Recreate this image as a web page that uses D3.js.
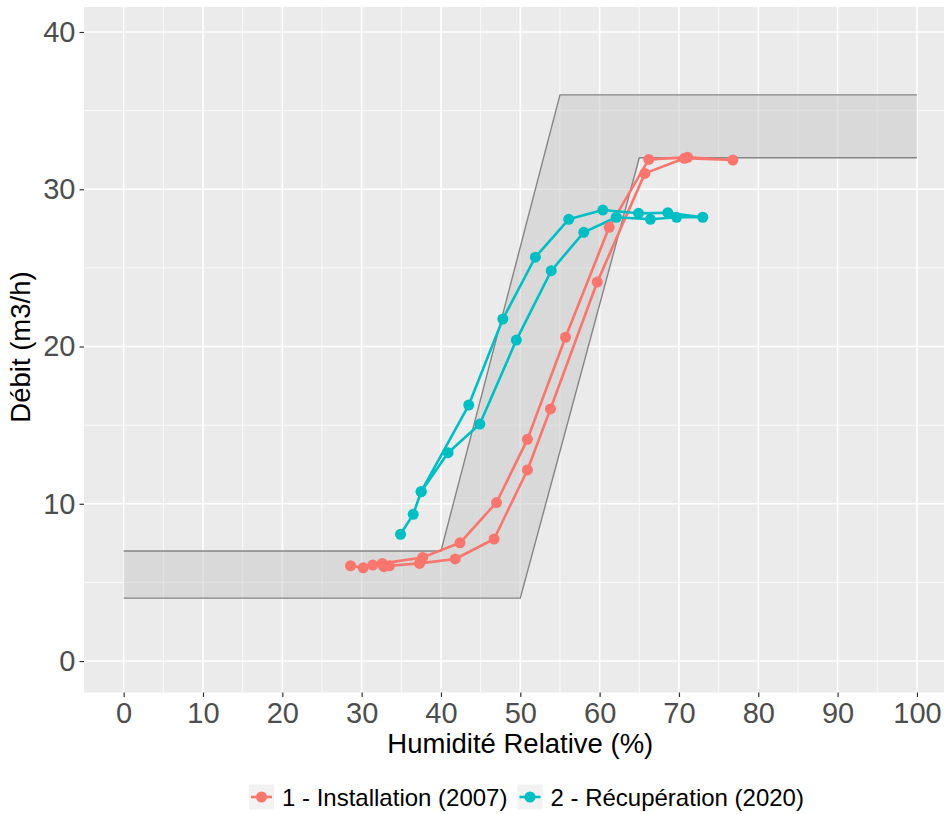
<!DOCTYPE html>
<html>
<head>
<meta charset="utf-8">
<script src="https://cdn.jsdelivr.net/npm/d3@7"></script>
<style>
  html, body { margin: 0; padding: 0; background: #ffffff; }
  svg { display: block; }
  text { font-family: "Liberation Sans", Arial, Helvetica, sans-serif; }
</style>
</head>
<body>
<svg id="chart" width="944" height="814"></svg>
<script>
// Envelope of acceptable flow versus relative humidity
const envUpperX = [0, 40, 55, 100];
const envUpperY = [7, 7, 36, 36];
const envLowerX = [0, 50, 65, 100];
const envLowerY = [4, 4, 32, 32];

// Measured curves, in measurement order (rising then falling humidity)
const seriesNames = ["1 - Installation (2007)", "2 - Récupération (2020)"];
const seriesColors = ["#F8766D", "#00BFC4"];

const installHumidity = [28.6, 30.2, 31.4, 32.6, 37.7, 42.4, 47.0, 50.9, 55.7, 61.2, 66.2, 71.1, 76.8,
                         70.7, 65.7, 59.7, 53.8, 50.9, 46.7, 41.8, 37.3, 33.5, 32.8];
const installFlow     = [6.06, 5.93, 6.10, 6.21, 6.59, 7.52, 10.08, 14.10, 20.59, 27.58, 31.90, 32.03, 31.86,
                         31.97, 31.01, 24.10, 16.03, 12.15, 7.76, 6.49, 6.21, 6.06, 6.00];

const recupHumidity = [34.9, 36.5, 37.5, 43.5, 47.8, 51.9, 56.1, 60.4, 64.9, 68.6, 73.0,
                       69.7, 66.4, 62.1, 58.0, 53.9, 49.5, 44.9, 40.9, 37.5];
const recupFlow     = [8.06, 9.33, 10.77, 16.28, 21.75, 25.68, 28.09, 28.68, 28.47, 28.51, 28.22,
                       28.22, 28.09, 28.22, 27.26, 24.82, 20.41, 15.07, 13.25, 10.77];

const xTicks = [0, 10, 20, 30, 40, 50, 60, 70, 80, 90, 100];
const xMinor = [5, 15, 25, 35, 45, 55, 65, 75, 85, 95];
const yTicks = [0, 10, 20, 30, 40];
const yMinor = [5, 15, 25, 35];

const xTitle = "Humidité Relative (%)";
const yTitle = "Débit (m3/h)";

// Layout
const panel = { left: 84, top: 7, right: 956.6, bottom: 692.5 };
const x = d3.scaleLinear().domain([-5, 105]).range([panel.left, panel.right]);
const y = d3.scaleLinear().domain([-2, 41.59]).range([panel.bottom, panel.top]);

const svg = d3.select("#chart");

// Panel background
svg.append("rect")
  .attr("x", panel.left).attr("y", panel.top)
  .attr("width", panel.right - panel.left).attr("height", panel.bottom - panel.top)
  .attr("fill", "#EBEBEB");

const grid = svg.append("g");
grid.selectAll("line.xminor").data(xMinor).join("line")
  .attr("x1", d => x(d)).attr("x2", d => x(d))
  .attr("y1", panel.top).attr("y2", panel.bottom)
  .attr("stroke", "#ffffff").attr("stroke-width", 0.8);
grid.selectAll("line.yminor").data(yMinor).join("line")
  .attr("y1", d => y(d)).attr("y2", d => y(d))
  .attr("x1", panel.left).attr("x2", panel.right)
  .attr("stroke", "#ffffff").attr("stroke-width", 0.8);
grid.selectAll("line.xmajor").data(xTicks).join("line")
  .attr("x1", d => x(d)).attr("x2", d => x(d))
  .attr("y1", panel.top).attr("y2", panel.bottom)
  .attr("stroke", "#ffffff").attr("stroke-width", 1.6);
grid.selectAll("line.ymajor").data(yTicks).join("line")
  .attr("y1", d => y(d)).attr("y2", d => y(d))
  .attr("x1", panel.left).attr("x2", panel.right)
  .attr("stroke", "#ffffff").attr("stroke-width", 1.6);

// Envelope ribbon
const upper = envUpperX.map((v, i) => [v, envUpperY[i]]);
const lower = envLowerX.map((v, i) => [v, envLowerY[i]]);
const line = d3.line().x(d => x(d[0])).y(d => y(d[1]));
svg.append("path")
  .attr("d", line(upper.concat(lower.slice().reverse())) + "Z")
  .attr("fill", "#C8C8C8").attr("fill-opacity", 0.5).attr("stroke", "none");
[upper, lower].forEach(b => {
  svg.append("path").attr("d", line(b))
    .attr("fill", "none").attr("stroke", "#858585").attr("stroke-width", 1.4);
});

// Series
const series = [
  { name: seriesNames[0], color: seriesColors[0], pts: installHumidity.map((h, i) => [h, installFlow[i]]) },
  { name: seriesNames[1], color: seriesColors[1], pts: recupHumidity.map((h, i) => [h, recupFlow[i]]) }
];
series.forEach(s => {
  svg.append("path").attr("d", line(s.pts))
    .attr("fill", "none").attr("stroke", s.color)
    .attr("stroke-width", 2.6).attr("stroke-linejoin", "round").attr("stroke-linecap", "butt");
});
series.forEach(s => {
  svg.append("g").selectAll("circle").data(s.pts).join("circle")
    .attr("cx", d => x(d[0])).attr("cy", d => y(d[1])).attr("r", 5.5)
    .attr("fill", s.color);
});

// Axes
const xAxis = d3.axisBottom(x).tickValues(xTicks).tickSize(4.5).tickPadding(5);
const gx = svg.append("g").attr("transform", `translate(0,${panel.bottom})`).call(xAxis);
gx.select(".domain").remove();
gx.selectAll(".tick line").attr("stroke", "#333333").attr("stroke-width", 1.2);
gx.selectAll(".tick text").attr("fill", "#4D4D4D").attr("font-size", 29)
  .attr("font-family", "Liberation Sans, Arial, sans-serif");

const yAxis = d3.axisLeft(y).tickValues(yTicks).tickSize(4.5).tickPadding(4);
const gy = svg.append("g").attr("transform", `translate(${panel.left},0)`).call(yAxis);
gy.select(".domain").remove();
gy.selectAll(".tick line").attr("stroke", "#333333").attr("stroke-width", 1.2);
gy.selectAll(".tick text").attr("fill", "#4D4D4D").attr("font-size", 29)
  .attr("font-family", "Liberation Sans, Arial, sans-serif");

// Axis titles
svg.append("text").attr("x", x(50)).attr("y", 753)
  .attr("text-anchor", "middle").attr("font-size", 27.5).attr("fill", "#000000")
  .text(xTitle);
svg.append("text").attr("transform", "translate(30,347) rotate(-90)")
  .attr("text-anchor", "middle").attr("font-size", 27.5).attr("fill", "#000000")
  .text(yTitle);

// Legend: keys and labels laid out left to right
const legend = svg.append("g");
const keySize = 25;
let cursor = 249;
series.forEach(s => {
  const g = legend.append("g").attr("transform", `translate(${cursor},${797 - keySize / 2})`);
  g.append("rect").attr("width", keySize).attr("height", keySize).attr("fill", "#F2F2F2");
  g.append("line").attr("x1", 2).attr("x2", keySize - 2).attr("y1", keySize / 2).attr("y2", keySize / 2)
    .attr("stroke", s.color).attr("stroke-width", 2.6);
  g.append("circle").attr("cx", keySize / 2).attr("cy", keySize / 2).attr("r", 5.5).attr("fill", s.color);
  const t = g.append("text").attr("x", keySize + 8).attr("y", keySize / 2 + 8.5)
    .attr("font-size", 24).attr("fill", "#000000").text(s.name);
  cursor += keySize + 8 + t.node().getComputedTextLength() + 10;
});
</script>
</body>
</html>
